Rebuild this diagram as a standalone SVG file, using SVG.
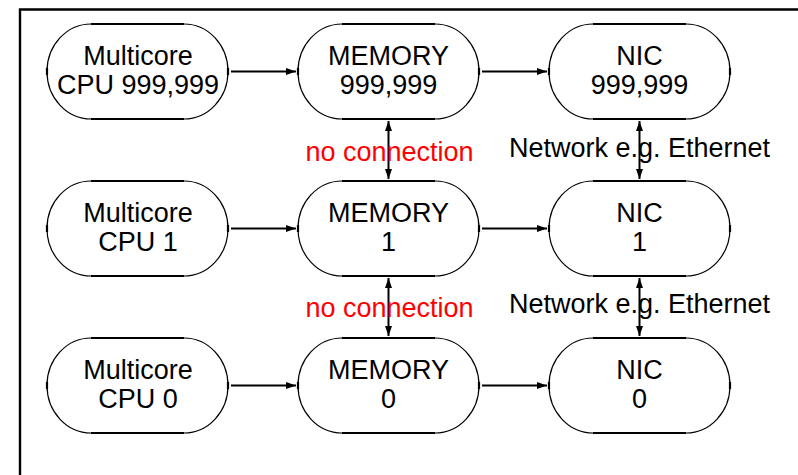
<svg xmlns="http://www.w3.org/2000/svg" xmlns:xlink="http://www.w3.org/1999/xlink" width="798" height="475" viewBox="0 0 798 475">
<style>
.t{font-family:"Liberation Sans",Arial,sans-serif;font-size:27px;text-anchor:middle;fill:#000}
.r{fill:#ff0000}
.arc{fill:none;stroke:#000;stroke-width:1.2}
.flat{fill:none;stroke:#000;stroke-width:2.2}
.c{fill:none;stroke:#000;stroke-width:2}
</style>
<defs>
<marker id="ah" markerUnits="userSpaceOnUse" markerWidth="11" markerHeight="8" refX="10" refY="3.5" orient="auto-start-reverse">
<path d="M0,0 L10,3.5 L0,7 z" fill="#000"/>
</marker>
<g id="shape">
<path class="arc" d="M44,0 A44,47.5 0 0 0 0,47.5 A44,47.5 0 0 0 44,95 M137,0 A44,47.5 0 0 1 181,47.5 A44,47.5 0 0 1 137,95"/>
<path class="flat" d="M44,0 H137 M44,95 H137 M0,44 V51 M181,44 V51"/>
</g>
</defs>
<rect width="798" height="475" fill="#fff"/>
<path d="M20,476 V9.5 H799" fill="none" stroke="#000" stroke-width="2.4"/>
<g id="connectors">
<line class="c" x1="231" y1="71.5" x2="296" y2="71.5" marker-end="url(#ah)"/>
<line class="c" x1="482" y1="71.5" x2="547" y2="71.5" marker-end="url(#ah)"/>
<line class="c" x1="231" y1="228.5" x2="296" y2="228.5" marker-end="url(#ah)"/>
<line class="c" x1="482" y1="228.5" x2="547" y2="228.5" marker-end="url(#ah)"/>
<line class="c" x1="231" y1="385.5" x2="296" y2="385.5" marker-end="url(#ah)"/>
<line class="c" x1="482" y1="385.5" x2="547" y2="385.5" marker-end="url(#ah)"/>
<line class="c" x1="388.5" y1="121" x2="388.5" y2="179" marker-start="url(#ah)" marker-end="url(#ah)"/>
<line class="c" x1="639.5" y1="121" x2="639.5" y2="179" marker-start="url(#ah)" marker-end="url(#ah)"/>
<line class="c" x1="388.5" y1="278" x2="388.5" y2="336" marker-start="url(#ah)" marker-end="url(#ah)"/>
<line class="c" x1="639.5" y1="278" x2="639.5" y2="336" marker-start="url(#ah)" marker-end="url(#ah)"/>
<text class="t r" x="389.5" y="161">no connection</text>
<text class="t" x="639.5" y="157">Network e.g. Ethernet</text>
<text class="t r" x="389.5" y="317">no connection</text>
<text class="t" x="639.5" y="313">Network e.g. Ethernet</text>
</g>
<g id="cpu999999"><use xlink:href="#shape" x="47" y="24"/><text class="t" x="138" y="65">Multicore</text><text class="t" x="138" y="94">CPU 999,999</text></g>
<g id="mem999999"><use xlink:href="#shape" x="298" y="24"/><text class="t" x="388.5" y="65">MEMORY</text><text class="t" x="388.5" y="94">999,999</text></g>
<g id="nic999999"><use xlink:href="#shape" x="549" y="24"/><text class="t" x="639.5" y="65">NIC</text><text class="t" x="639.5" y="94">999,999</text></g>
<g id="cpu1"><use xlink:href="#shape" x="47" y="181"/><text class="t" x="138" y="222">Multicore</text><text class="t" x="138" y="251">CPU 1</text></g>
<g id="mem1"><use xlink:href="#shape" x="298" y="181"/><text class="t" x="388.5" y="222">MEMORY</text><text class="t" x="388.5" y="251">1</text></g>
<g id="nic1"><use xlink:href="#shape" x="549" y="181"/><text class="t" x="639.5" y="222">NIC</text><text class="t" x="639.5" y="251">1</text></g>
<g id="cpu0"><use xlink:href="#shape" x="47" y="338"/><text class="t" x="138" y="379">Multicore</text><text class="t" x="138" y="408">CPU 0</text></g>
<g id="mem0"><use xlink:href="#shape" x="298" y="338"/><text class="t" x="388.5" y="379">MEMORY</text><text class="t" x="388.5" y="408">0</text></g>
<g id="nic0"><use xlink:href="#shape" x="549" y="338"/><text class="t" x="639.5" y="379">NIC</text><text class="t" x="639.5" y="408">0</text></g>
</svg>
